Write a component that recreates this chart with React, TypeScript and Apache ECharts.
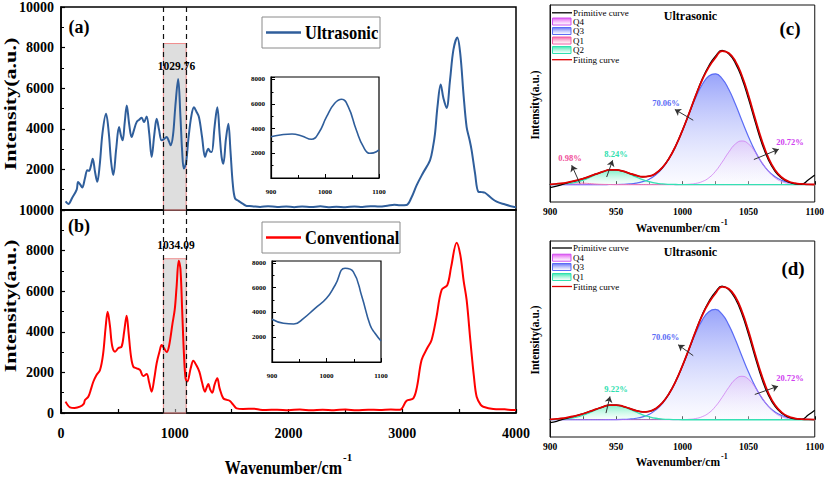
import React, { useEffect, useRef } from "react";
import * as echarts from "echarts";

const FONT = "Liberation Serif, Times New Roman, serif";

// ---- Panel (a): ultrasonic FTIR spectrum [wavenumber, intensity]
const ultrasonicSpectrum: [number, number][] = [
  [40, 420], [64, 300], [100, 620], [138, 1000], [150, 1380], [168, 1260], [187, 1110], [210, 1550],
  [231, 1960], [246, 1930], [262, 2150], [279, 2530], [300, 1850], [319, 1390], [340, 2200], [365, 3800],
  [396, 4740], [420, 3800], [440, 2400], [460, 1720], [485, 3000], [510, 4085], [528, 3650], [542, 3430],
  [560, 4300], [578, 5150], [600, 4200], [621, 3590], [642, 3950], [665, 4330], [688, 4450], [709, 4540],
  [730, 4330], [753, 4610], [775, 3800], [797, 2610], [820, 3700], [841, 4490], [862, 3950], [885, 3430],
  [907, 3500], [929, 3590], [948, 3400], [964, 3190], [985, 3700], [1005, 5100], [1030, 6450], [1050, 4600],
  [1065, 2900], [1080, 2040], [1100, 2350], [1120, 3500], [1145, 4600], [1169, 5060], [1190, 4850], [1213, 4570],
  [1240, 3600], [1266, 2610], [1280, 2850], [1295, 3020], [1310, 2880], [1325, 2860], [1350, 4100], [1374, 5060],
  [1395, 3700], [1412, 2600], [1427, 2280], [1450, 3500], [1471, 4250], [1490, 2900], [1510, 1300], [1530, 570],
  [1560, 450], [1600, 300], [1632, 200], [1680, 190], [1750, 150], [1820, 190], [1900, 150], [1980, 170],
  [2050, 140], [2120, 170], [2200, 150], [2280, 180], [2350, 140], [2420, 160], [2500, 140], [2580, 170],
  [2650, 150], [2720, 190], [2800, 170], [2870, 210], [2930, 260], [2980, 230], [3038, 250], [3080, 600],
  [3127, 1225], [3180, 1800], [3244, 2450], [3270, 3100], [3288, 3760], [3310, 5100], [3338, 6180], [3362, 5500],
  [3390, 5030], [3420, 6400], [3450, 7900], [3484, 8500], [3510, 7700], [3540, 5600], [3566, 4085], [3590, 3500],
  [3610, 2940], [3640, 1800], [3669, 900], [3700, 880], [3727, 850], [3780, 600], [3830, 410], [3900, 280],
  [3976, 160], [4000, 150],
];

// ---- Panel (b): conventional FTIR spectrum
const conventionalSpectrum: [number, number][] = [
  [40, 560], [79, 280], [120, 250], [167, 310], [200, 450], [211, 640], [240, 800], [265, 1200],
  [284, 1540], [310, 1850], [343, 2120], [370, 2900], [392, 4200], [410, 4990], [430, 4300], [450, 3300],
  [475, 3020], [505, 3200], [533, 3270], [555, 4000], [577, 4790], [595, 3900], [615, 2800], [636, 2280],
  [665, 2200], [694, 2120], [723, 1820], [753, 1920], [775, 1500], [797, 1050], [820, 1700], [841, 2450],
  [865, 3000], [885, 3350], [905, 3200], [929, 3000], [950, 3300], [980, 4400], [1000, 5100], [1016, 6200],
  [1035, 7500], [1050, 7100], [1065, 5100], [1080, 3000], [1095, 1700], [1110, 1550], [1140, 2200], [1163, 2580],
  [1190, 2350], [1216, 2040], [1240, 1500], [1266, 1050], [1280, 1250], [1295, 1430], [1312, 1150], [1330, 1000],
  [1350, 1400], [1374, 1710], [1395, 1200], [1427, 720], [1460, 650], [1485, 590], [1515, 400], [1544, 230],
  [1600, 200], [1700, 210], [1750, 160], [1800, 150], [1900, 160], [2000, 140], [2100, 170], [2200, 130],
  [2300, 160], [2400, 140], [2500, 170], [2600, 130], [2700, 160], [2800, 150], [2900, 170], [2980, 160],
  [3038, 600], [3097, 720], [3130, 1300], [3170, 2610], [3220, 3200], [3258, 3600], [3300, 4700], [3346, 6060],
  [3396, 6300], [3430, 7200], [3478, 8390], [3510, 7800], [3540, 6500], [3566, 5570], [3600, 3500], [3630, 1800],
  [3654, 800], [3690, 400], [3712, 310], [3800, 200], [3900, 180], [3976, 148], [4000, 150],
];

// ---- Insets: 900-1100 cm-1 zoom
const ultrasonicInset: [number, number][] = [
  [900, 3354], [917, 3491], [939, 3573], [957, 3410], [975, 3142], [988, 3629], [1003, 4977], [1018, 6065],
  [1031, 6390], [1043, 5790], [1058, 3898], [1071, 2541], [1083, 2005], [1090, 2040], [1100, 2280],
];
const conventionalInset: [number, number][] = [
  [900, 3446], [921, 3122], [940, 3067], [958, 3527], [979, 4333], [1000, 5140], [1016, 6214], [1034, 7561],
  [1049, 7287], [1065, 5270], [1080, 2986], [1089, 2316], [1100, 1700],
];

// ---- Panels (c)/(d): peak fitting, 900-1100 cm-1
const fitWavenumbers = [
  900, 905, 910, 915, 920, 925, 930, 935, 940, 945, 950, 955, 960, 965, 970, 975, 980, 985, 990, 995,
  1000, 1005, 1010, 1015, 1020, 1025, 1030, 1035, 1040, 1045, 1050, 1055, 1060, 1065, 1070, 1075, 1080,
  1085, 1090, 1095, 1100,
];
const q3Band = [
  0, 0, 0, 0, 0, 0, 0, 0, 0, 0.001,
  0.001, 0.002, 0.005, 0.011, 0.022, 0.041, 0.074, 0.124, 0.196, 0.29,
  0.404, 0.529, 0.65, 0.75, 0.813, 0.83, 0.794, 0.714, 0.603, 0.478,
  0.357, 0.25, 0.164, 0.101, 0.059, 0.032, 0.016, 0.008, 0.004, 0.002, 0.001,
];
const q4Band = [
  0, 0, 0, 0, 0, 0, 0, 0, 0, 0,
  0, 0, 0, 0, 0, 0, 0, 0, 0, 0,
  0.001, 0.003, 0.009, 0.023, 0.051, 0.1, 0.168, 0.243, 0.304, 0.327,
  0.304, 0.243, 0.168, 0.1, 0.051, 0.023, 0.009, 0.003, 0.001, 0, 0,
];
const q2Band = [
  0.001, 0.002, 0.004, 0.01, 0.019, 0.034, 0.054, 0.076, 0.095, 0.108,
  0.109, 0.099, 0.08, 0.058, 0.037, 0.022, 0.011, 0.005, 0.002, 0.001,
  0, 0, 0, 0, 0, 0, 0, 0, 0, 0,
  0, 0, 0, 0, 0, 0, 0, 0, 0, 0, 0,
];
const q1Band = [
  0.001, 0.004, 0.008, 0.011, 0.012, 0.011, 0.008, 0.004, 0.002, 0.001,
  0, 0, 0, 0, 0, 0, 0, 0, 0, 0,
  0, 0, 0, 0, 0, 0, 0, 0, 0, 0,
  0, 0, 0, 0, 0, 0, 0, 0, 0, 0, 0,
];
const fittingCurve = [
  0.002, 0.006, 0.012, 0.021, 0.031, 0.045, 0.062, 0.08, 0.097, 0.11,
  0.11, 0.101, 0.085, 0.069, 0.059, 0.063, 0.085, 0.129, 0.198, 0.291,
  0.405, 0.532, 0.665, 0.785, 0.88, 0.95, 1.0, 0.985, 0.925, 0.815,
  0.665, 0.493, 0.332, 0.201, 0.11, 0.055, 0.025, 0.011, 0.005, 0.002, 0.001,
];
const primitiveCurve = [
  -0.022, -0.012, 0.004, 0.018, 0.03, 0.045, 0.062, 0.08, 0.097, 0.11,
  0.11, 0.101, 0.085, 0.069, 0.059, 0.063, 0.085, 0.129, 0.198, 0.291,
  0.405, 0.532, 0.665, 0.79, 0.89, 0.962, 1.005, 0.98, 0.91, 0.795,
  0.64, 0.47, 0.31, 0.185, 0.1, 0.048, 0.02, 0.006, 0.003, 0.035, 0.072,
];

const BLUE = "#2f5e9b";
const RED = "#ff0000";
const Q3C = "#5b6cf5";
const Q4C = "rgba(205,120,240,0.75)";
const Q1C = "#f07ab4";
const Q2C = "#35e0b4";

const plain = (v: number) => String(v);
const pairs = (ys: number[]) => fitWavenumbers.map((x, i) => [x, ys[i]]);
const grad = (top: string, bottom: string) =>
  new echarts.graphic.LinearGradient(0, 0, 0, 1, [
    { offset: 0, color: top },
    { offset: 1, color: bottom },
  ]);

const boldText = (text: string, x: number, y: number, size: number, extra: any = {}, style: any = {}) => ({
  type: "text",
  x,
  y,
  z: 100,
  ...extra,
  style: {
    text,
    fill: "#000",
    fontSize: size,
    fontWeight: "bold",
    fontFamily: FONT,
    textAlign: "center",
    textVerticalAlign: "middle",
    align: "center",
    verticalAlign: "middle",
    ...style,
  },
});

const App: React.FC = () => {
  const ref = useRef<HTMLDivElement>(null);

  useEffect(() => {
    if (!ref.current) return;
    const chart = echarts.init(ref.current, undefined, { renderer: "svg" });

    const mainYAxis = (gridIndex: number, showMin: boolean) => ({
      gridIndex,
      type: "value",
      min: 0,
      max: 10000,
      interval: 2000,
      axisLine: { show: true, lineStyle: { color: "#000", width: 1.5 } },
      axisTick: { show: true, inside: true, length: 4, lineStyle: { color: "#000", width: 1.2 } },
      minorTick: { show: true, splitNumber: 2, length: 3, lineStyle: { color: "#000", width: 1 } },
      splitLine: { show: false },
      axisLabel: {
        formatter: plain,
        showMinLabel: showMin,
        color: "#000",
        fontSize: 14,
        fontWeight: "bold",
        fontFamily: FONT,
        margin: 7,
      },
    });

    const insetX = (gridIndex: number) => ({
      gridIndex,
      type: "value",
      min: 900,
      max: 1100,
      interval: 100,
      axisLine: { show: true, lineStyle: { color: "#000", width: 1.2 } },
      axisTick: { show: true, inside: true, length: 4, lineStyle: { color: "#000" } },
      minorTick: { show: true, splitNumber: 2, length: 3, lineStyle: { color: "#000" } },
      splitLine: { show: false },
      axisLabel: { formatter: plain, color: "#000", fontSize: 7, fontWeight: "bold", fontFamily: FONT, margin: 10 },
    });
    const insetY = (gridIndex: number, max: number) => ({
      gridIndex,
      type: "value",
      min: 0,
      max,
      interval: 2000,
      axisLine: { show: true, lineStyle: { color: "#000", width: 1.2 } },
      axisTick: { show: true, inside: true, length: 4, lineStyle: { color: "#000" } },
      minorTick: { show: true, splitNumber: 2, length: 2.5, lineStyle: { color: "#000" } },
      splitLine: { show: false },
      axisLabel: {
        formatter: plain,
        showMinLabel: false,
        showMaxLabel: false,
        color: "#000",
        fontSize: 7,
        fontWeight: "bold",
        fontFamily: FONT,
        margin: 6,
      },
    });
    const fitX = (gridIndex: number) => ({
      gridIndex,
      type: "value",
      min: 900,
      max: 1100,
      interval: 50,
      axisLine: { show: true, lineStyle: { color: "#111", width: 1 } },
      axisTick: { show: true, inside: true, length: 3.5, lineStyle: { color: "#111" } },
      minorTick: { show: true, splitNumber: 2, length: 3.5, lineStyle: { color: "#111" } },
      splitLine: { show: false },
      axisLabel: { formatter: plain, color: "#000", fontSize: 9.5, fontWeight: "bold", fontFamily: FONT, margin: 5 },
    });
    const fitY = (gridIndex: number) => ({
      gridIndex,
      type: "value",
      min: -0.13,
      max: 1.345,
      axisLine: { show: true, lineStyle: { color: "#111", width: 1 } },
      axisTick: { show: false },
      axisLabel: { show: false },
      splitLine: { show: false },
    });

    const bandSeries = (xIdx: number, showQ1: boolean, arrows: any[]) => {
      const common = {
        type: "line",
        xAxisIndex: xIdx,
        yAxisIndex: xIdx,
        showSymbol: false,
        symbol: "none",
        smooth: 0.5,
        silent: true,
      };
      const list: any[] = [
        {
          ...common,
          name: "Q3",
          data: pairs(q3Band),
          lineStyle: { color: Q3C, width: 1.2 },
          areaStyle: { color: grad("rgba(108,124,248,1)", "rgba(244,244,255,0.5)") },
        },
        {
          ...common,
          name: "Q4",
          data: pairs(q4Band),
          lineStyle: { color: Q4C, width: 1 },
          areaStyle: { color: grad("rgba(222,190,248,0.9)", "rgba(255,255,255,0.2)") },
        },
      ];
      if (showQ1) {
        list.push({
          ...common,
          name: "Q1",
          data: pairs(q1Band),
          lineStyle: { color: Q1C, width: 1 },
          areaStyle: { color: grad("rgba(245,150,200,0.6)", "rgba(255,255,255,0.2)") },
        });
      }
      list.push(
        {
          ...common,
          name: showQ1 ? "Q2" : "Q1",
          data: pairs(q2Band),
          lineStyle: { color: Q2C, width: 1.3 },
          areaStyle: { color: grad("rgba(60,230,170,0.9)", "rgba(230,255,245,0.4)") },
        },
        {
          ...common,
          name: "Primitive curve",
          data: pairs(primitiveCurve),
          lineStyle: { color: "#000", width: 1.3 },
        },
        {
          ...common,
          name: "Fitting curve",
          data: pairs(fittingCurve),
          lineStyle: { color: "#e00000", width: 1.8 },
          markLine: {
            silent: true,
            symbol: ["none", "arrow"],
            symbolSize: 6,
            label: { show: false },
            lineStyle: { color: "#333", width: 1, type: "solid" },
            data: arrows,
          },
        }
      );
      return list;
    };

    const arrowsC = [
      [{ coord: [1008.2, 0.482] }, { coord: [994.3, 0.563] }],
      [{ coord: [1054, 0.188] }, { coord: [1072.8, 0.265] }],
      [{ coord: [922.6, 0.008] }, { coord: [916.4, 0.145] }],
      [{ coord: [942.8, 0.057] }, { coord: [947.3, 0.182] }],
    ];
    const arrowsD = [
      [{ coord: [1008.2, 0.482] }, { coord: [996.8, 0.564] }],
      [{ coord: [1054.7, 0.19] }, { coord: [1072.3, 0.252] }],
      [{ coord: [942.3, 0.05] }, { coord: [945.3, 0.175] }],
    ];

    const mainLine = (idx: number, data: [number, number][], color: string, bandTop: number) => ({
      type: "line",
      xAxisIndex: idx,
      yAxisIndex: idx,
      data,
      showSymbol: false,
      symbol: "none",
      smooth: 0.35,
      silent: true,
      lineStyle: { color, width: 2 },
      markArea: {
        silent: true,
        itemStyle: { color: "rgba(195,195,195,0.55)", borderColor: "#f08c8c", borderWidth: 1 },
        data: [[{ xAxis: 900, yAxis: 0 }, { xAxis: 1100, yAxis: bandTop }]],
      },
      markLine: {
        silent: true,
        symbol: "none",
        label: { show: false },
        lineStyle: { type: [5, 4], color: "#111", width: 1.2 },
        data: [{ xAxis: 900 }, { xAxis: 1100 }],
      },
    });

    const insetLine = (idx: number, data: [number, number][]) => ({
      type: "line",
      xAxisIndex: idx,
      yAxisIndex: idx,
      data,
      showSymbol: false,
      symbol: "none",
      smooth: 0.5,
      silent: true,
      lineStyle: { color: BLUE, width: 1.6 },
    });

    const legendBox = (y0: number, w: number, color: string, label: string) => [
      { type: "rect", z: 100, shape: { x: 262, y: y0, width: w, height: 31 }, style: { fill: "#fff", stroke: "#8a8a8a", lineWidth: 1 } },
      { type: "line", z: 101, shape: { x1: 266, y1: y0 + 15.5, x2: 301, y2: y0 + 15.5 }, style: { stroke: color, lineWidth: 2.5 } },
      boldText(label, 305, y0 + 16, 16.5, { z: 101, scaleY: 1.1 }, { textAlign: "left", align: "left" }),
    ];

    const fitLegend = (rows: number[], names: { name: string; kind: "line" | "box"; color: string; top?: string }[]) => {
      const els: any[] = [];
      names.forEach((n, i) => {
        const cy = rows[i];
        if (n.kind === "line") {
          els.push({ type: "line", z: 100, shape: { x1: 552, y1: cy, x2: 572, y2: cy }, style: { stroke: n.color, lineWidth: 1.3 } });
        } else {
          els.push({
            type: "rect",
            z: 100,
            shape: { x: 552.5, y: cy - 3.5, width: 18.5, height: 7 },
            style: { fill: grad(n.top as string, "rgba(255,255,255,0.6)"), stroke: n.color, lineWidth: 1 },
          });
        }
        els.push({
          type: "text",
          z: 100,
          x: 573,
          y: cy,
          style: {
            text: n.name,
            fill: "#000",
            fontSize: 9,
            fontFamily: FONT,
            textAlign: "left",
            align: "left",
            textVerticalAlign: "middle",
            verticalAlign: "middle",
          },
        });
      });
      return els;
    };

    const pct = (text: string, x: number, y: number, color: string) =>
      boldText(text, x, y, 8.5, {}, { fill: color });

    chart.setOption({
      animation: false,
      backgroundColor: "#fff",
      grid: [
        { left: 61, top: 6, width: 455, height: 204, show: true, borderColor: "#000", borderWidth: 1.5, backgroundColor: "transparent" },
        { left: 61, top: 210, width: 455, height: 203, show: true, borderColor: "#000", borderWidth: 1.5, backgroundColor: "transparent" },
        { left: 271, top: 77, width: 108, height: 101, show: true, borderColor: "#000", borderWidth: 1.2, backgroundColor: "#fff" },
        { left: 272, top: 261, width: 109, height: 101, show: true, borderColor: "#000", borderWidth: 1.2, backgroundColor: "#fff" },
        { left: 550, top: 5, width: 267, height: 197, show: true, borderColor: "#111", borderWidth: 1, backgroundColor: "transparent" },
        { left: 550, top: 241, width: 267, height: 196, show: true, borderColor: "#111", borderWidth: 1, backgroundColor: "transparent" },
      ],
      xAxis: [
        {
          gridIndex: 0,
          type: "value",
          min: 0,
          max: 4000,
          interval: 1000,
          axisLine: { show: true, lineStyle: { color: "#000", width: 1.5 } },
          axisTick: { show: false },
          axisLabel: { show: false },
          splitLine: { show: false },
        },
        {
          gridIndex: 1,
          type: "value",
          min: 0,
          max: 4000,
          interval: 1000,
          axisLine: { show: true, lineStyle: { color: "#000", width: 1.5 } },
          axisTick: { show: true, inside: true, length: 4, lineStyle: { color: "#000", width: 1.2 } },
          minorTick: { show: true, splitNumber: 2, length: 4, lineStyle: { color: "#000", width: 1.2 } },
          splitLine: { show: false },
          axisLabel: { formatter: plain, color: "#000", fontSize: 14, fontWeight: "bold", fontFamily: FONT, margin: 13 },
        },
        insetX(2),
        insetX(3),
        fitX(4),
        fitX(5),
      ],
      yAxis: [mainYAxis(0, false), mainYAxis(1, true), insetY(2, 8200), insetY(3, 8150), fitY(4), fitY(5)],
      series: [
        mainLine(0, ultrasonicSpectrum, BLUE, 8200),
        mainLine(1, conventionalSpectrum, RED, 7600),
        insetLine(2, ultrasonicInset),
        insetLine(3, conventionalInset),
        ...bandSeries(4, true, arrowsC),
        ...bandSeries(5, false, arrowsD),
      ],
      graphic: {
        elements: [
          // main panels
          boldText("(a)", 79, 27, 18),
          boldText("(b)", 79, 226, 18),
          boldText("1029.76", 176.5, 66, 11.5),
          boldText("1034.09", 176, 245, 11.5),
          boldText("Intensity(a.u.)", 10, 104, 17, { rotation: Math.PI / 2, scaleX: 1.3 }),
          boldText("Intensity(a.u.)", 10, 306, 17, { rotation: Math.PI / 2, scaleX: 1.3 }),
          boldText("Wavenumber/cm", 342, 467, 16, { scaleY: 1.2 }, { textAlign: "right", align: "right" }),
          boldText("-1", 343, 457, 11, {}, { textAlign: "left", align: "left" }),
          ...legendBox(17, 118, BLUE, "Ultrasonic"),
          ...legendBox(222, 138, RED, "Conventional"),
          // panel (c)
          boldText("Ultrasonic", 690.5, 16, 12),
          boldText("(c)", 790, 28.5, 19),
          boldText("Intensity(a.u.)", 535, 105, 11.5, { rotation: Math.PI / 2 }),
          boldText("Wavenumber/cm", 720, 228, 11.5, {}, { textAlign: "right", align: "right" }),
          boldText("-1", 721, 222.5, 8, {}, { textAlign: "left", align: "left" }),
          pct("70.06%", 666, 102.7, Q3C),
          pct("0.98%", 570, 157.7, "#f0509a"),
          pct("8.24%", 616, 154, "#2fe0b0"),
          pct("20.72%", 790, 142.3, "#d040f0"),
          ...fitLegend([12.8, 21.5, 31, 40.5, 50, 59.7], [
            { name: "Primitive curve", kind: "line", color: "#000" },
            { name: "Q4", kind: "box", color: "#d050f0", top: "rgba(225,80,240,0.95)" },
            { name: "Q3", kind: "box", color: Q3C, top: "rgba(90,105,245,0.95)" },
            { name: "Q1", kind: "box", color: "#f060a8", top: "rgba(245,90,160,0.95)" },
            { name: "Q2", kind: "box", color: "#30e0b0", top: "rgba(50,230,170,0.95)" },
            { name: "Fitting curve", kind: "line", color: "#e00000" },
          ]),
          // panel (d)
          boldText("Ultrasonic", 690.5, 252, 12),
          boldText("(d)", 793, 268.5, 19),
          boldText("Intensity(a.u.)", 535, 340, 11.5, { rotation: Math.PI / 2 }),
          boldText("Wavenumber/cm", 720, 462, 11.5, {}, { textAlign: "right", align: "right" }),
          boldText("-1", 721, 456.5, 8, {}, { textAlign: "left", align: "left" }),
          pct("70.06%", 665.5, 337, Q3C),
          pct("9.22%", 616, 389.3, "#2fe0b0"),
          pct("20.72%", 790, 378.3, "#d040f0"),
          ...fitLegend([248, 257.7, 267, 277, 286.5], [
            { name: "Primitive curve", kind: "line", color: "#000" },
            { name: "Q4", kind: "box", color: "#d050f0", top: "rgba(225,80,240,0.95)" },
            { name: "Q3", kind: "box", color: Q3C, top: "rgba(90,105,245,0.95)" },
            { name: "Q1", kind: "box", color: "#30e0b0", top: "rgba(50,230,170,0.95)" },
            { name: "Fitting curve", kind: "line", color: "#e00000" },
          ]),
        ],
      },
    });

    return () => chart.dispose();
  }, []);

  return (
    <div
      ref={ref}
      style={{ position: "absolute", left: 0, top: 0, width: 827, height: 477, background: "#fff" }}
    />
  );
};

export default App;
